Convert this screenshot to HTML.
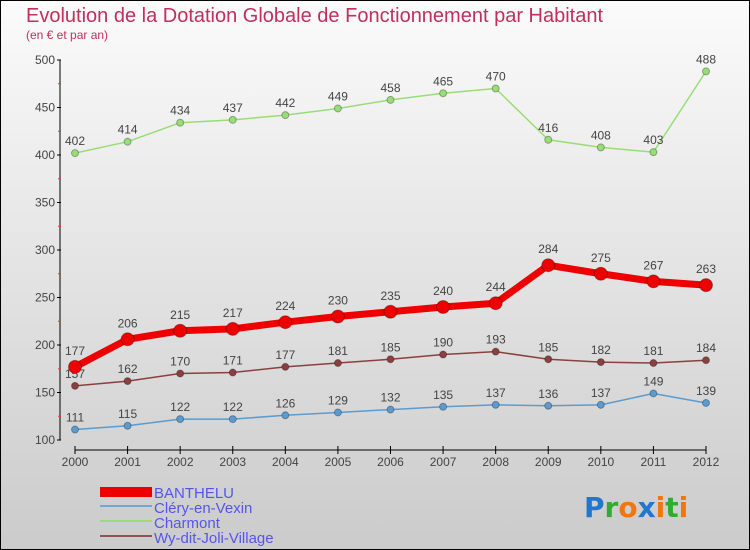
<!DOCTYPE html>
<html><head><meta charset="utf-8"><style>
html,body{margin:0;padding:0}
body{width:750px;height:550px;overflow:hidden;font-family:"Liberation Sans",sans-serif}
#wrap{position:absolute;left:0;top:0;width:748px;height:548px;border:1px solid #000;background:linear-gradient(#fbfbfb,#cbcbcb)}
</style></head><body>
<div id="wrap">
<svg id="svg" width="750" height="550" style="position:absolute;left:-1px;top:-1px">
<text x="26" y="22" font-size="20" fill="#c0305a">Evolution de la Dotation Globale de Fonctionnement par Habitant</text>
<text x="26" y="39" font-size="12" fill="#c0305a">(en € et par an)</text>
<g id="axes"></g><g id="series"></g>
<g font-size="15" fill="#5555ee">
<rect x="100" y="487" width="52" height="10" fill="#ee0000"/>
<text x="154" y="498">BANTHELU</text>
<rect x="100" y="505" width="52" height="2" fill="#6fa8d8"/>
<text x="154" y="513">Cléry-en-Vexin</text>
<rect x="100" y="520" width="52" height="2" fill="#99dd77"/>
<text x="154" y="528">Charmont</text>
<rect x="100" y="535" width="52" height="2" fill="#8b5555"/>
<text x="154" y="543">Wy-dit-Joli-Village</text>
</g>
<g font-size="28" font-family="'DejaVu Sans',sans-serif" font-weight="bold">
<text x="584" y="517"><tspan fill="#2277cc">P</tspan><tspan fill="#33aa33">r</tspan><tspan fill="#ee7711">o</tspan><tspan fill="#2277cc">x</tspan><tspan fill="#ee7711">i</tspan><tspan fill="#33aa33">t</tspan><tspan fill="#ee7711">i</tspan></text>
</g>
</svg></div>
<script>
const years=[2000,2001,2002,2003,2004,2005,2006,2007,2008,2009,2010,2011,2012];
const yTicks=[100,150,200,250,300,350,400,450,500];
const banthelu=[177,206,215,217,224,230,235,240,244,284,275,267,263];
const clery=[111,115,122,122,126,129,132,135,137,136,137,149,139];
const charmont=[402,414,434,437,442,449,458,465,470,416,408,403,488];
const wy=[157,162,170,171,177,181,185,190,193,185,182,181,184];
const NS='http://www.w3.org/2000/svg';
const X=i=>75+i*(631/12), Y=v=>440-(v-100)*0.95;
function mk(t,a,p){const e=document.createElementNS(NS,t);for(const k in a)e.setAttribute(k,a[k]);p.appendChild(e);return e;}
const ax=document.getElementById('axes'), se=document.getElementById('series');
let l=mk('line',{x1:60,y1:60,x2:60,y2:440,stroke:'#000'},ax);

l=mk('line',{x1:75,y1:450,x2:706,y2:450,stroke:'#000'},ax);

yTicks.forEach(v=>{mk('line',{x1:57,x2:61,y1:Y(v),y2:Y(v),stroke:'#000'},ax);
 const t=mk('text',{x:55,y:Y(v)+4,'text-anchor':'end','font-size':12,fill:'#444'},ax);t.textContent=v;
 
 if(v<500){mk('line',{x1:58,x2:61,y1:Y(v+25),y2:Y(v+25),stroke:'#e33'},ax);}});
years.forEach((y,i)=>{mk('line',{x1:X(i),x2:X(i),y1:446,y2:454,stroke:'#000'},ax);
 const t=mk('text',{x:X(i),y:466,'text-anchor':'middle','font-size':12,fill:'#444'},ax);t.textContent=y;
 });
function series(d,col,w,r,name,dy){const g=mk('g',{},se);
 
 mk('polyline',{points:d.map((v,i)=>X(i)+','+Y(v)).join(' '),fill:'none',stroke:col,'stroke-width':w,'stroke-linejoin':'round'},g);
 d.forEach((v,i)=>{const c=mk('circle',{cx:X(i),cy:Y(v),r:r,fill:col,stroke:'rgba(0,0,0,0.3)'},g);
  
  const t=mk('text',{x:X(i),y:Y(v)+dy,'text-anchor':'middle','font-size':12,fill:'#444'},g);t.textContent=v;});}
series(charmont,'#99dd77',1.5,3.5,'charmont',-8);
series(wy,'#8b4040',1.5,3.5,'wy',-8);
series(clery,'#5b9bd0',1.5,3.5,'clery',-8);
series(banthelu,'#ee0000',7,6.5,'banthelu',-12);
</script>
</body></html>
